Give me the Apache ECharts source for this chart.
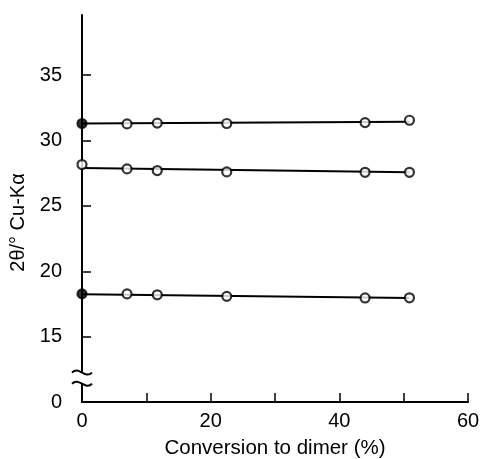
<!DOCTYPE html>
<html>
<head>
<meta charset="utf-8">
<script src="https://cdn.jsdelivr.net/npm/echarts@6/dist/echarts.min.js"></script>
<style>
  html, body { margin: 0; padding: 0; background: #fff; }
  #chart { width: 481px; height: 459px; }
</style>
</head>
<body>
<div id="chart"></div>
<script>
// conversion to dimer (%)
const conversion = [0, 7, 11.7, 22.5, 44, 50.9];
// 2theta peak positions (deg)
const peakHigh = [31.3, 31.27, 31.33, 31.3, 31.37, 31.55];
const peakMid = [28.16, 27.83, 27.7, 27.6, 27.57, 27.57];
const peakLow = [18.27, 18.27, 18.2, 18.08, 17.96, 17.97];
// straight-line fits drawn through each set
const fitX = [0, 50.9];
const fitHigh = [31.3, 31.44];
const fitMid = [27.9, 27.57];
const fitLow = [18.25, 17.96];

const xTicks = [10, 20, 30, 40, 50, 60];
const xLabels = [0, 20, 40, 60];
const yTicks = [15, 20, 25, 30, 35];
const yLabels = [10, 15, 20, 25, 30, 35];

const FONT = "'Liberation Sans', Arial, sans-serif";
const ink = "#000";

const zip = (xs, ys) => xs.map((x, i) => [x, ys[i]]);

const fitSeries = (ys) => ({
  type: "line",
  data: zip(fitX, ys),
  showSymbol: false,
  symbol: "none",
  silent: true,
  lineStyle: { color: ink, width: 2 },
  z: 2
});

const pointSeries = (ys, filledFirst) => ({
  type: "scatter",
  data: zip(conversion, ys).map((p, i) => ({
    value: p,
    itemStyle: filledFirst && i === 0 ? { color: ink } : undefined
  })),
  symbol: "circle",
  symbolSize: 9,
  itemStyle: { color: "#fff", borderColor: ink, borderWidth: 2.2 },
  z: 3
});

const chart = echarts.init(document.getElementById("chart"));

chart.setOption({
  animation: false,
  grid: { left: 82, right: 13, top: 15, bottom: 57, outerBoundsMode: "none" },
  xAxis: {
    type: "value",
    min: 0,
    max: 60,
    name: "Conversion to dimer (%)",
    nameLocation: "middle",
    nameGap: 36,
    nameTextStyle: { color: ink, fontFamily: FONT, fontSize: 20.5 },
    axisLine: { lineStyle: { color: ink, width: 2 } },
    axisTick: { inside: true, length: 9, customValues: xTicks, lineStyle: { color: ink, width: 1.5 } },
    axisLabel: { customValues: xLabels, color: ink, fontFamily: FONT, fontSize: 20, margin: 9 },
    splitLine: { show: false }
  },
  yAxis: {
    type: "value",
    min: 10,
    max: 39.6,
    name: "2θ/° Cu-Kα",
    nameLocation: "middle",
    nameGap: 45,
    nameTextStyle: { color: ink, fontFamily: FONT, fontSize: 20, padding: [0, 28, 0, 0] },
    axisLine: { lineStyle: { color: ink, width: 2 } },
    axisTick: { inside: true, length: 9, customValues: yTicks, lineStyle: { color: ink, width: 1.5 } },
    axisLabel: {
      customValues: yLabels,
      color: ink,
      fontFamily: FONT,
      fontSize: 20,
      margin: 20,
      // axis is broken below 15: the bottom end stands for 0
      formatter: (v) => (v === 10 ? "0" : String(v))
    },
    splitLine: { show: false }
  },
  series: [
    fitSeries(fitHigh),
    fitSeries(fitMid),
    fitSeries(fitLow),
    pointSeries(peakHigh, true),
    pointSeries(peakMid, false),
    pointSeries(peakLow, true)
  ]
});

// axis-break squiggles on the y axis
const breakUpper = 12.25;
const breakLower = 11.4;
const upperPt = chart.convertToPixel({ gridIndex: 0 }, [0, breakUpper]);
const lowerPt = chart.convertToPixel({ gridIndex: 0 }, [0, breakLower]);
const squiggle = (x, y) => ({
  type: "bezierCurve",
  shape: { x1: x - 10, y1: y, cpx1: x - 3, cpy1: y - 7, cpx2: x + 3, cpy2: y + 7, x2: x + 10, y2: y },
  style: { stroke: ink, lineWidth: 2, fill: null },
  z: 100
});

chart.setOption({
  graphic: [
    {
      type: "rect",
      shape: { x: upperPt[0] - 4, y: upperPt[1], width: 8, height: lowerPt[1] - upperPt[1] },
      style: { fill: "#fff" },
      z: 99
    },
    squiggle(upperPt[0], upperPt[1]),
    squiggle(lowerPt[0], lowerPt[1])
  ]
});
</script>
</body>
</html>
